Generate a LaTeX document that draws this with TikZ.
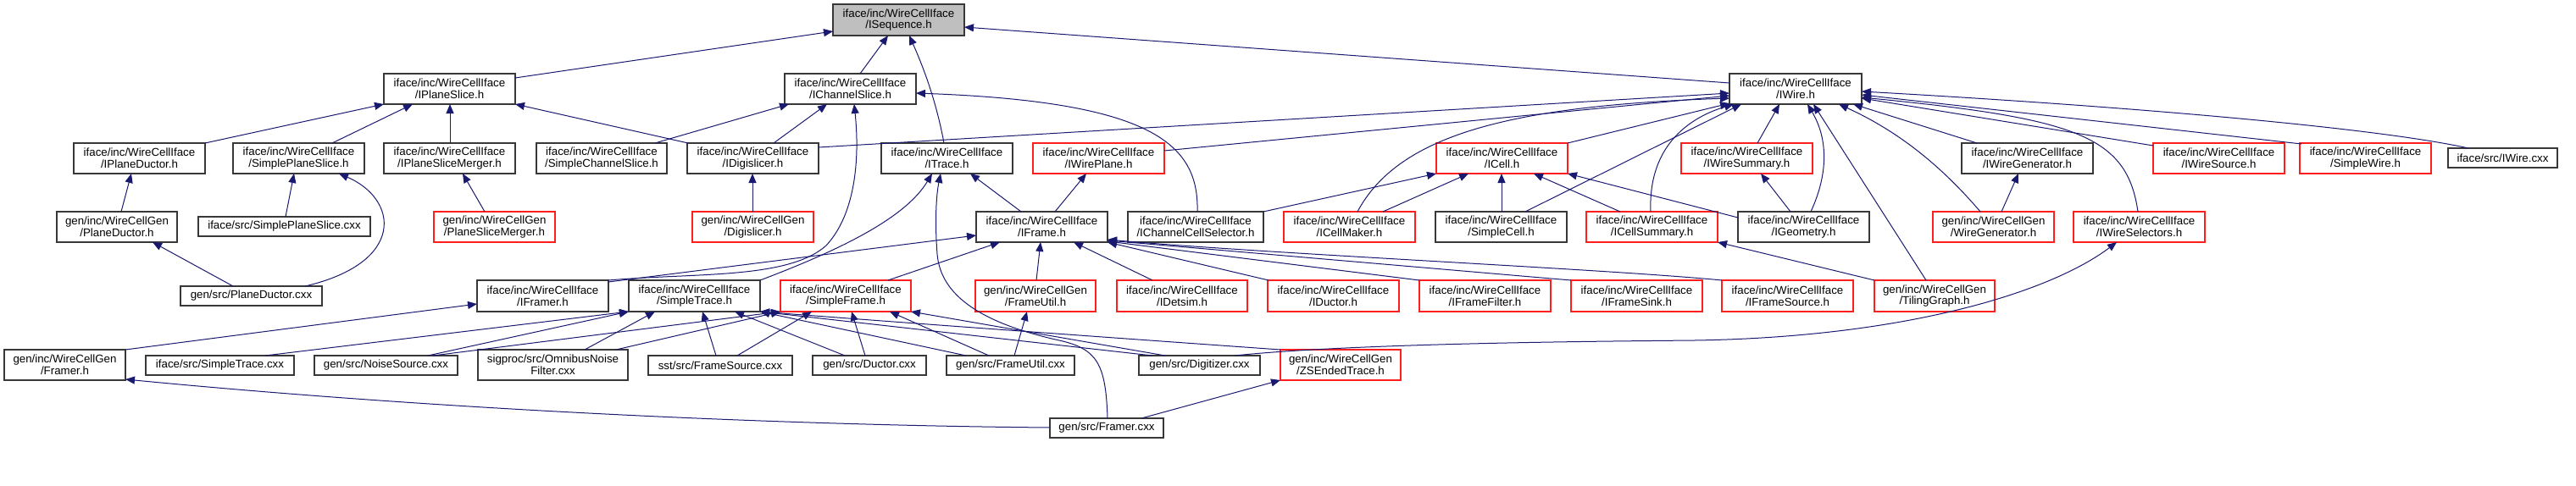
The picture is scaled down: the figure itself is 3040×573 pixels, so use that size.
\documentclass[tikz,border=0pt]{standalone}
\usepackage{fontspec}
\setmainfont{Liberation Sans}
\usetikzlibrary{arrows.meta}
\definecolor{edgeblue}{RGB}{25,25,112}
\definecolor{boxred}{RGB}{255,30,30}
\newcommand\nodept[3]{([xshift=#2pt,yshift=-#3pt]#1.north west)}
\tikzset{
  box/.style={draw=black!78, line width=1.3pt, fill=white, anchor=north west, inner sep=0pt, outer sep=0pt,
    align=center, font=\fontsize{13.3pt}{13.6pt}\selectfont, minimum height=36pt, minimum width=155pt},
  redbox/.style={box, draw=boxred},
  gbox/.style={box, fill=black!25},
  sbox/.style={box, minimum height=23pt},
  edge/.style={draw=edgeblue, line width=1pt, -{Triangle[length=11pt,width=9pt]}},
}
\begin{document}
\begin{tikzpicture}[x=1pt,y=-1pt]
\useasboundingbox (0,0) rectangle (3040,573);
% row 0
\node[gbox, minimum height=37pt] (seq) at (983,5) {iface/inc/WireCellIface\\/ISequence.h};
% row 1
\node[box] (planeslice) at (453,87) {iface/inc/WireCellIface\\/IPlaneSlice.h};
\node[box] (chslice) at (926,87) {iface/inc/WireCellIface\\/IChannelSlice.h};
\node[box, minimum width=156pt] (wire) at (2041,87) {iface/inc/WireCellIface\\/IWire.h};
% row 2
\node[box] (planeductor) at (87,169) {iface/inc/WireCellIface\\/IPlaneDuctor.h};
\node[box] (spslice) at (275,169) {iface/inc/WireCellIface\\/SimplePlaneSlice.h};
\node[box] (psmerger) at (453,169) {iface/inc/WireCellIface\\/IPlaneSliceMerger.h};
\node[box, minimum width=154pt] (schslice) at (633,169) {iface/inc/WireCellIface\\/SimpleChannelSlice.h};
\node[box] (digislicer) at (811,169) {iface/inc/WireCellIface\\/IDigislicer.h};
\node[box] (itrace) at (1040,169) {iface/inc/WireCellIface\\/ITrace.h};
\node[redbox] (wireplane) at (1219,169) {iface/inc/WireCellIface\\/IWirePlane.h};
\node[redbox] (icell) at (1695,169) {iface/inc/WireCellIface\\/ICell.h};
\node[redbox] (wiresummary) at (1984,169) {iface/inc/WireCellIface\\/IWireSummary.h};
\node[box] (wiregen) at (2315,169) {iface/inc/WireCellIface\\/IWireGenerator.h};
\node[redbox] (wiresource) at (2541,169) {iface/inc/WireCellIface\\/IWireSource.h};
\node[redbox] (simplewire) at (2714,169) {iface/inc/WireCellIface\\/SimpleWire.h};
\node[sbox, minimum width=129pt] (wirecxx) at (2889,175) {iface/src/IWire.cxx};
% row 3
\node[box, minimum width=142pt] (pductorgen) at (67,250) {gen/inc/WireCellGen\\/PlaneDuctor.h};
\node[sbox, minimum width=203pt] (spslicecxx) at (234,256) {iface/src/SimplePlaneSlice.cxx};
\node[redbox, minimum width=143pt] (psmergergen) at (512,250) {gen/inc/WireCellGen\\/PlaneSliceMerger.h};
\node[redbox, minimum width=143pt] (digislicergen) at (817,250) {gen/inc/WireCellGen\\/Digislicer.h};
\node[box] (iframe) at (1152,250) {iface/inc/WireCellIface\\/IFrame.h};
\node[box, minimum width=160pt] (chcellsel) at (1331,250) {iface/inc/WireCellIface\\/IChannelCellSelector.h};
\node[redbox] (cellmaker) at (1515,250) {iface/inc/WireCellIface\\/ICellMaker.h};
\node[box] (simplecell) at (1694,250) {iface/inc/WireCellIface\\/SimpleCell.h};
\node[redbox] (cellsummary) at (1872,250) {iface/inc/WireCellIface\\/ICellSummary.h};
\node[box] (geometry) at (2051,250) {iface/inc/WireCellIface\\/IGeometry.h};
\node[redbox, minimum width=143pt] (wiregengen) at (2281,250) {gen/inc/WireCellGen\\/WireGenerator.h};
\node[redbox] (wiresel) at (2447,250) {iface/inc/WireCellIface\\/IWireSelectors.h};
% row 4
\node[sbox, minimum width=167pt] (pductorcxx) at (213,338) {gen/src/PlaneDuctor.cxx};
\node[box, minimum height=37pt] (iframer) at (563,331) {iface/inc/WireCellIface\\/IFramer.h};
\node[box, minimum height=37pt] (simpletrace) at (742,331) {iface/inc/WireCellIface\\/SimpleTrace.h};
\node[redbox, minimum height=37pt, minimum width=154pt] (simpleframe) at (921,331) {iface/inc/WireCellIface\\/SimpleFrame.h};
\node[redbox, minimum height=37pt, minimum width=142pt] (frameutilgen) at (1151,331) {gen/inc/WireCellGen\\/FrameUtil.h};
\node[redbox, minimum height=37pt, minimum width=154pt] (detsim) at (1318,331) {iface/inc/WireCellIface\\/IDetsim.h};
\node[redbox, minimum height=37pt] (iductor) at (1496,331) {iface/inc/WireCellIface\\/IDuctor.h};
\node[redbox, minimum height=37pt] (framefilter) at (1675,331) {iface/inc/WireCellIface\\/IFrameFilter.h};
\node[redbox, minimum height=37pt] (framesink) at (1854,331) {iface/inc/WireCellIface\\/IFrameSink.h};
\node[redbox, minimum height=37pt] (framesource) at (2032,331) {iface/inc/WireCellIface\\/IFrameSource.h};
\node[redbox, minimum height=37pt, minimum width=142pt] (tiling) at (2212,331) {gen/inc/WireCellGen\\/TilingGraph.h};
% row 5
\node[box, minimum width=143pt] (framergen) at (5,413) {gen/inc/WireCellGen\\/Framer.h};
\node[sbox, minimum width=175pt] (stcxx) at (172,420) {iface/src/SimpleTrace.cxx};
\node[sbox, minimum width=169pt] (noisecxx) at (371,420) {gen/src/NoiseSource.cxx};
\node[box, minimum width=177pt] (omnibus) at (564,413) {sigproc/src/OmnibusNoise\\Filter.cxx};
\node[sbox, minimum width=170pt] (fscxx) at (765,420) {sst/src/FrameSource.cxx};
\node[sbox, minimum width=134pt] (ductorcxx) at (959,420) {gen/src/Ductor.cxx};
\node[sbox, minimum width=151pt] (futilcxx) at (1117,420) {gen/src/FrameUtil.cxx};
\node[sbox, minimum width=143pt] (digitcxx) at (1344,420) {gen/src/Digitizer.cxx};
\node[redbox, minimum width=142pt] (zsended) at (1511,413) {gen/inc/WireCellGen\\/ZSEndedTrace.h};
% row 6
\node[sbox, minimum width=134pt] (framercxx) at (1239,494) {gen/src/Framer.cxx};

% edges
\draw[edge] \nodept{planeslice}{155}{5} -- \nodept{seq}{0}{32};
\draw[edge] \nodept{chslice}{89}{0} -- \nodept{seq}{65}{37};
\draw[edge] \nodept{itrace}{74}{0} .. controls (1105,120) and (1090,80) .. \nodept{seq}{90}{37};
\draw[edge] \nodept{wire}{0}{11} -- \nodept{seq}{155}{27};
\draw[edge] \nodept{planeductor}{155}{0} -- \nodept{planeslice}{0}{36};
\draw[edge] \nodept{spslice}{117}{0} -- \nodept{planeslice}{34}{36};
\draw[edge] \nodept{psmerger}{78}{0} -- \nodept{planeslice}{78}{36};
\draw[edge] \nodept{digislicer}{1}{0} -- \nodept{planeslice}{155}{36};
\draw[edge] \nodept{schslice}{140}{0} -- \nodept{chslice}{5}{36};
\draw[edge] \nodept{digislicer}{102}{0} -- \nodept{chslice}{50}{36};
\draw[edge] \nodept{iframer}{155}{0} .. controls (820,322) and (930,330) .. (975,290) .. controls (1012,250) and (1014,180) .. \nodept{chslice}{82}{36};
\draw[edge] \nodept{simpletrace}{155}{0} .. controls (1000,292) and (1070,255) .. \nodept{itrace}{60}{36};
\draw[edge] \nodept{iframe}{53}{0} -- \nodept{itrace}{105}{36};
\draw[edge] \nodept{framercxx}{68}{0} .. controls (1305,430) and (1295,412) .. (1250,402) .. controls (1160,382) and (1110,350) .. (1106,300) .. controls (1103,260) and (1105,230) .. \nodept{itrace}{70}{36};
\draw[edge] \nodept{zsended}{0}{0} .. controls (1300,398) and (1050,380) .. \nodept{simpletrace}{155}{37};
\draw[edge] \nodept{iframe}{93}{0} -- \nodept{wireplane}{63}{36};
\draw[edge] \nodept{iframer}{155}{2} -- \nodept{iframe}{0}{28};
\draw[edge] \nodept{simpleframe}{127}{0} -- \nodept{iframe}{28}{36};
\draw[edge] \nodept{frameutilgen}{72}{0} -- \nodept{iframe}{76}{36};
\draw[edge] \nodept{detsim}{42}{0} -- \nodept{iframe}{115}{36};
\draw[edge] \nodept{iductor}{1}{0} -- \nodept{iframe}{155}{36};
\draw[edge] \nodept{framefilter}{0}{0} -- \nodept{iframe}{155}{35};
\draw[edge] \nodept{framesink}{0}{0} -- \nodept{iframe}{155}{34};
\draw[edge] \nodept{framesource}{0}{0} .. controls (1900,318) and (1500,300) .. \nodept{iframe}{155}{33};
\draw[edge] \nodept{futilcxx}{80}{0} -- \nodept{frameutilgen}{61}{37};
\draw[edge] \nodept{futilcxx}{50}{0} -- \nodept{simpleframe}{129}{37};
\draw[edge] \nodept{futilcxx}{23}{0} -- \nodept{simpletrace}{155}{37};
\draw[edge] \nodept{digitcxx}{16}{0} -- \nodept{simpletrace}{155}{37};
\draw[edge] \nodept{digitcxx}{31}{0} -- \nodept{simpleframe}{154}{37};
\draw[edge] \nodept{digitcxx}{113}{0} .. controls (1600,405) and (1900,403) .. (2000,402) .. controls (2250,398) and (2420,345) .. \nodept{wiresel}{51}{36};
\draw[edge] \nodept{framercxx}{108}{0} -- \nodept{zsended}{0}{36};
\draw[edge] \nodept{framercxx}{0}{11} .. controls (900,502) and (500,482) .. \nodept{framergen}{143}{35};
\draw[edge] \nodept{framergen}{143}{0} -- \nodept{iframer}{0}{28};
\draw[edge] \nodept{stcxx}{141}{0} -- \nodept{simpletrace}{0}{37};
\draw[edge] \nodept{noisecxx}{134}{0} -- \nodept{simpletrace}{0}{37};
\draw[edge] \nodept{noisecxx}{140}{0} -- \nodept{simpleframe}{0}{37};
\draw[edge] \nodept{omnibus}{126}{0} -- \nodept{simpletrace}{31}{37};
\draw[edge] \nodept{omnibus}{163}{0} -- \nodept{simpleframe}{0}{37};
\draw[edge] \nodept{fscxx}{80}{0} -- \nodept{simpletrace}{87}{37};
\draw[edge] \nodept{fscxx}{105}{0} -- \nodept{simpleframe}{37}{37};
\draw[edge] \nodept{ductorcxx}{38}{0} -- \nodept{simpletrace}{125}{37};
\draw[edge] \nodept{ductorcxx}{62}{0} -- \nodept{simpleframe}{84}{37};
\draw[edge] \nodept{pductorgen}{76}{0} -- \nodept{planeductor}{68}{36};
\draw[edge] \nodept{pductorcxx}{62}{0} -- \nodept{pductorgen}{113}{36};
\draw[edge] \nodept{pductorcxx}{147}{0} .. controls (480,310) and (470,235) .. \nodept{spslice}{125}{36};
\draw[edge] \nodept{spslicecxx}{103}{0} -- \nodept{spslice}{72}{36};
\draw[edge] \nodept{psmergergen}{60}{0} -- \nodept{psmerger}{93}{36};
\draw[edge] \nodept{digislicergen}{71}{0} -- \nodept{digislicer}{77}{36};
\draw[edge] \nodept{chcellsel}{82}{0} .. controls (1415,170) and (1360,120) .. \nodept{chslice}{155}{23};
\draw[edge] \nodept{chcellsel}{160}{0} -- \nodept{icell}{0}{36};
\draw[edge] \nodept{cellmaker}{117}{0} -- \nodept{icell}{38}{36};
\draw[edge] \nodept{simplecell}{78}{0} -- \nodept{icell}{77}{36};
\draw[edge] \nodept{cellsummary}{40}{0} -- \nodept{icell}{115}{36};
\draw[edge] \nodept{geometry}{0}{7} -- \nodept{icell}{155}{36};
\draw[edge] \nodept{tiling}{0}{0} -- \nodept{cellsummary}{155}{36};
\draw[edge] \nodept{geometry}{62}{0} -- \nodept{wiresummary}{94}{36};
\draw[edge] \nodept{wiregengen}{81}{0} -- \nodept{wiregen}{67}{36};
\draw[edge] \nodept{digislicer}{155}{5} -- \nodept{wire}{0}{23};
\draw[edge] \nodept{wireplane}{155}{9} -- \nodept{wire}{0}{26};
\draw[edge] \nodept{cellmaker}{87}{0} .. controls (1650,160) and (1780,125) .. \nodept{wire}{0}{29};
\draw[edge] \nodept{icell}{155}{0} -- \nodept{wire}{0}{35};
\draw[edge] \nodept{simplecell}{106}{0} -- \nodept{wire}{14}{36};
\draw[edge] \nodept{cellsummary}{76}{0} .. controls (1945,175) and (1990,140) .. \nodept{wire}{5}{36};
\draw[edge] \nodept{wiresummary}{90}{0} -- \nodept{wire}{59}{36};
\draw[edge] \nodept{geometry}{86}{0} .. controls (2160,200) and (2155,160) .. \nodept{wire}{92}{36};
\draw[edge] \nodept{tiling}{61}{0} -- \nodept{wire}{99}{36};
\draw[edge] \nodept{wiregengen}{56}{0} .. controls (2290,195) and (2240,155) .. \nodept{wire}{129}{36};
\draw[edge] \nodept{wiregen}{18}{0} -- \nodept{wire}{146}{36};
\draw[edge] \nodept{wiresel}{76}{0} .. controls (2510,160) and (2450,140) .. \nodept{wire}{156}{28};
\draw[edge] \nodept{wiresource}{0}{3} -- \nodept{wire}{156}{29};
\draw[edge] \nodept{simplewire}{2}{1} -- \nodept{wire}{156}{25};
\draw[edge] \nodept{wirecxx}{24}{0} .. controls (2800,150) and (2500,125) .. \nodept{wire}{156}{21};
\end{tikzpicture}
\end{document}
